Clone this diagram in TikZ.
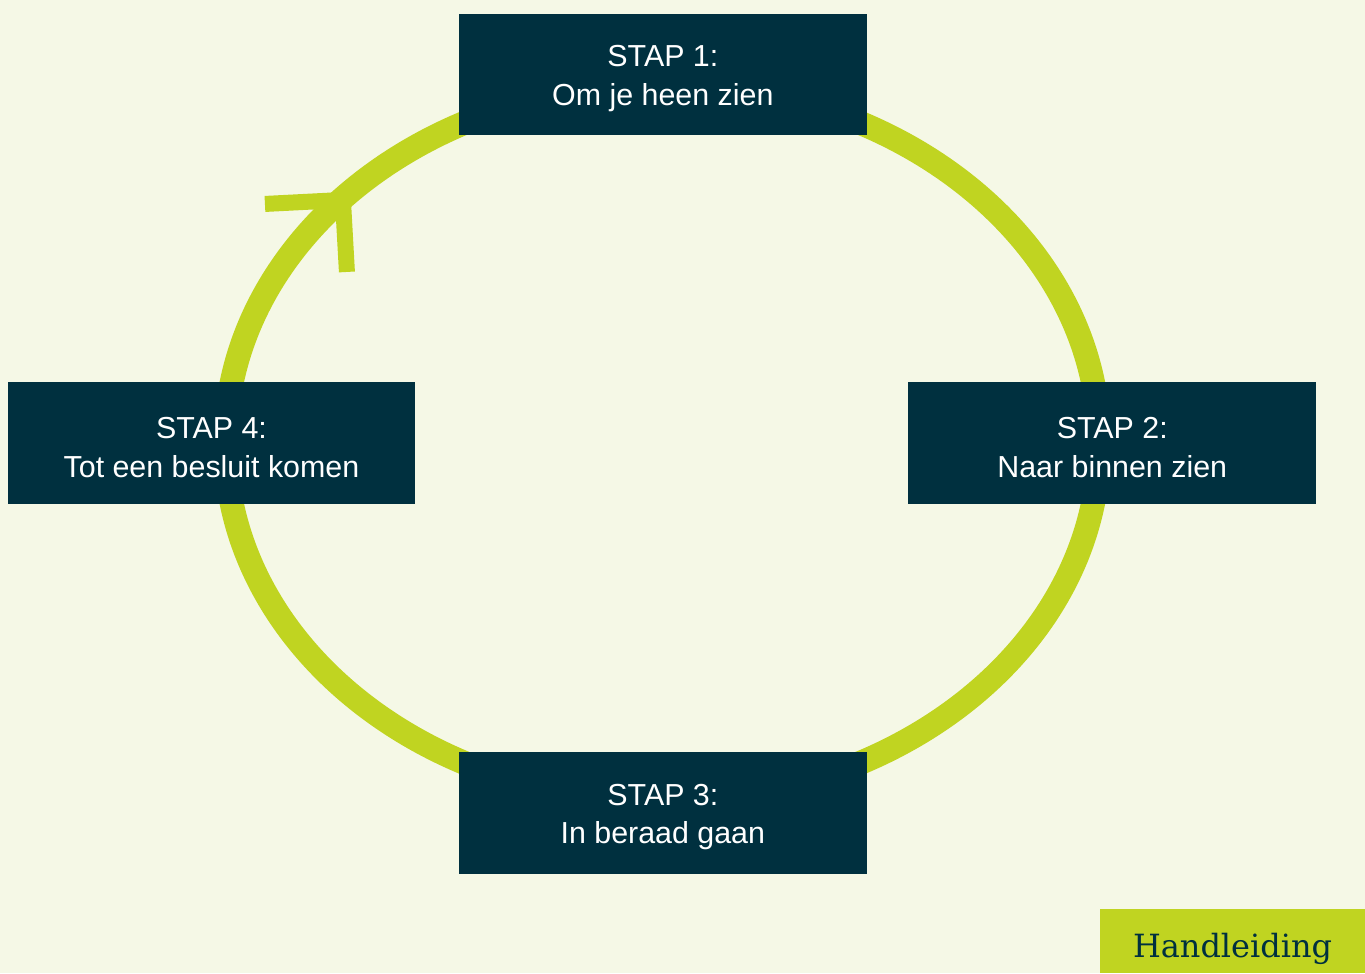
\documentclass[tikz,border=0pt]{standalone}
\usepackage{fontspec}
\setmainfont{Liberation Sans}
\newfontfamily\slabfont{DejaVu Serif}
\definecolor{achtergrond}{HTML}{F5F8E6}
\definecolor{limoen}{HTML}{C0D421}
\definecolor{petrol}{HTML}{00303F}
\tikzset{
	stapbox/.style={fill=petrol, text=white, minimum width=8.16cm, minimum height=2.44cm,
		align=center, font=\fontsize{17.3}{22.1}\selectfont},
	ring/.style={draw=limoen, line width=0.48cm},
	arm/.style={draw=limoen, line width=0.32cm}
}
\begin{document}
\begin{tikzpicture}[x=0.02cm,y=-0.02cm]
\fill[achtergrond] (0,0) rectangle (1365,973);

\draw[ring] (662.5,443) ellipse [x radius=8.74cm, y radius=7.18cm];

\coordinate (pijl) at (343,200);
\draw[arm] (pijl) -- (265,204);
\draw[arm] (pijl) -- (347,272);

\foreach \n/\x/\y/\t in {1/663/74.5/Om je heen zien,2/1112.5/443/Naar binnen zien,3/663/813/In beraad gaan,4/211.5/443/Tot een besluit komen}
{
	\node[stapbox] (stap\n) at (\x,\y) {\rule{0pt}{16.9pt}STAP \n:\\\t};
}

\node[fill=limoen, text=petrol, minimum width=5.3cm, minimum height=1.28cm, anchor=north west,
	text height=18.2pt, text depth=0pt,
	font=\slabfont\fontsize{18.2}{20}\selectfont] (handleiding) at (1100,909) {Handleiding};
\end{tikzpicture}
\end{document}
